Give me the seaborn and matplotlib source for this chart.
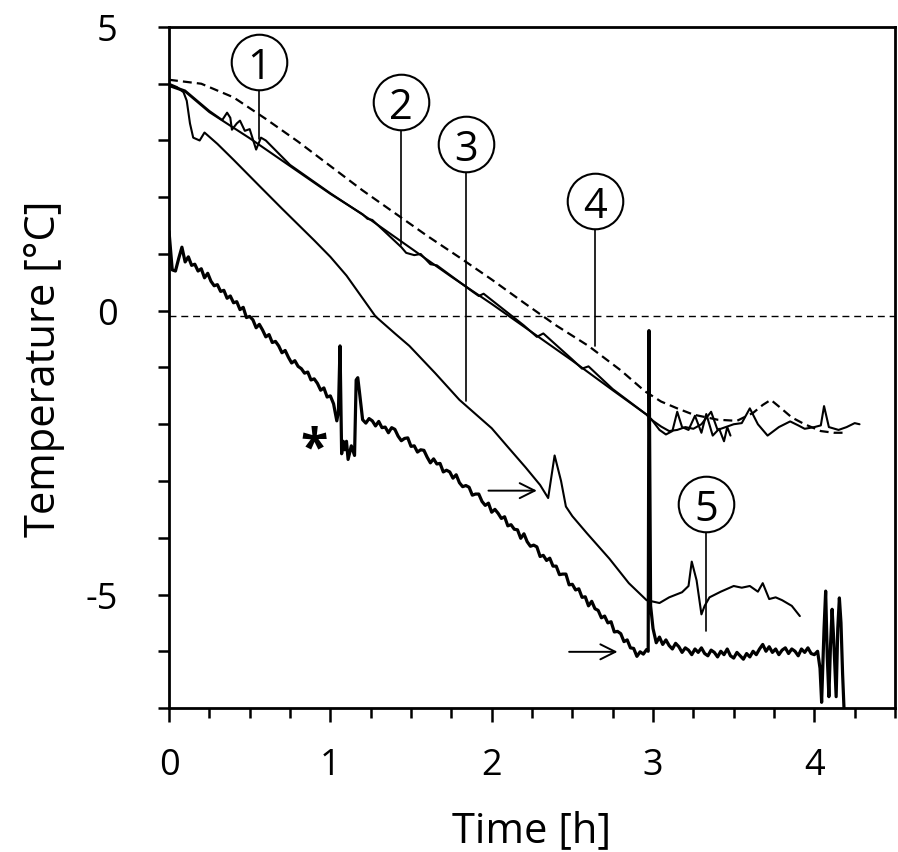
import matplotlib
matplotlib.use("Agg")
import matplotlib.pyplot as plt
import seaborn as sns
from matplotlib.ticker import FixedLocator, MultipleLocator

# ---- data (time in h, temperature in degC) ----
dashed_x = [0.00, 0.20, 0.40, 0.60, 0.80, 1.00, 1.20, 1.40, 1.60, 1.80, 2.00, 2.20,
            2.40, 2.60, 2.80, 2.95, 3.05, 3.15, 3.25, 3.40, 3.52, 3.62, 3.68, 3.73,
            3.79, 3.86, 3.94, 4.04, 4.12, 4.20]
dashed_y = [4.07, 4.00, 3.76, 3.38, 2.98, 2.55, 2.12, 1.72, 1.32, 0.94, 0.55, 0.14,
            -0.26, -0.62, -1.05, -1.42, -1.60, -1.72, -1.83, -1.92, -1.94, -1.80, -1.66, -1.57,
            -1.71, -1.88, -2.00, -2.12, -2.15, -2.15]

curve1_x = [0.00, 0.10, 0.25, 0.33, 0.36, 0.38, 0.39, 0.42, 0.44, 0.47, 0.50, 0.54,
            0.57, 0.60, 0.75, 1.00, 1.25, 1.50, 1.75, 2.00, 2.25, 2.50, 2.75, 2.96,
            3.00, 3.05, 3.10, 3.15, 3.20, 3.25, 3.30, 3.36, 3.40, 3.45, 3.50, 3.55,
            3.60, 3.65, 3.71, 3.78, 3.85, 3.90, 3.94, 4.00, 4.04, 4.06, 4.09, 4.15,
            4.20, 4.25, 4.28]
curve1_y = [3.98, 3.88, 3.52, 3.36, 3.49, 3.40, 3.19, 3.30, 3.35, 3.17, 3.20, 2.84,
            3.05, 3.00, 2.57, 2.07, 1.60, 1.10, 0.60, 0.12, -0.38, -0.88, -1.40, -1.83,
            -1.94, -2.04, -2.12, -2.10, -2.05, -2.08, -2.00, -1.78, -2.10, -2.05, -2.00, -1.98,
            -1.72, -2.00, -2.20, -2.05, -1.95, -2.02, -2.08, -2.05, -2.02, -1.68, -2.05, -2.10,
            -2.05, -1.98, -2.00]

curve2_x = [0.00, 0.10, 0.25, 0.50, 0.75, 1.00, 1.20, 1.23, 1.26, 1.44, 1.47, 1.52,
            1.56, 1.62, 1.66, 1.88, 1.92, 1.95, 2.20, 2.28, 2.32, 2.50, 2.56, 2.60,
            2.75, 2.96, 3.00, 3.04, 3.08, 3.12, 3.15, 3.18, 3.22, 3.26, 3.30, 3.33,
            3.37, 3.41, 3.44, 3.46, 3.48]
curve2_y = [3.96, 3.86, 3.50, 3.04, 2.55, 2.06, 1.70, 1.62, 1.60, 1.12, 1.02, 0.98,
            1.00, 0.82, 0.80, 0.34, 0.26, 0.30, -0.26, -0.46, -0.40, -0.86, -1.02, -0.98,
            -1.38, -1.83, -1.95, -2.10, -2.18, -2.12, -1.78, -2.05, -2.10, -1.85, -2.15, -1.82,
            -2.20, -2.08, -2.30, -2.05, -2.20]

curve3_x = [0.00, 0.05, 0.09, 0.11, 0.13, 0.15, 0.19, 0.22, 0.30, 0.40, 0.56, 0.70,
            0.80, 0.90, 1.00, 1.10, 1.20, 1.28, 1.40, 1.49, 1.65, 1.80, 1.90, 2.00,
            2.10, 2.21, 2.30, 2.35, 2.39, 2.43, 2.46, 2.50, 2.59, 2.73, 2.85, 2.96,
            3.04, 3.10, 3.18, 3.22, 3.24, 3.27, 3.30, 3.32, 3.35, 3.42, 3.50, 3.55,
            3.60, 3.65, 3.68, 3.72, 3.76, 3.80, 3.86, 3.91]
curve3_y = [4.00, 3.94, 3.85, 3.70, 3.30, 3.05, 3.00, 3.14, 2.94, 2.66, 2.20, 1.80,
            1.52, 1.24, 0.95, 0.62, 0.22, -0.10, -0.40, -0.62, -1.10, -1.57, -1.82, -2.07,
            -2.40, -2.76, -3.07, -3.30, -2.55, -3.00, -3.45, -3.62, -3.92, -4.37, -4.80, -5.10,
            -5.15, -5.05, -4.96, -4.85, -4.42, -4.75, -5.35, -5.20, -5.05, -4.95, -4.85, -4.88,
            -4.85, -4.95, -4.80, -5.08, -5.05, -5.10, -5.20, -5.38]

lower_x = [0.00, 0.01, 0.02, 0.04, 0.06, 0.08, 0.10, 0.12, 0.14, 0.16, 0.18, 0.20,
           0.22, 0.24, 0.26, 0.28, 0.30, 0.32, 0.34, 0.36, 0.38, 0.40, 0.42, 0.44,
           0.46, 0.48, 0.50, 0.52, 0.54, 0.56, 0.58, 0.60, 0.62, 0.64, 0.66, 0.68,
           0.70, 0.72, 0.74, 0.76, 0.78, 0.80, 0.82, 0.84, 0.86, 0.88, 0.90, 0.92,
           0.94, 0.96, 0.98, 1.00, 1.02, 1.04, 1.05, 1.06, 1.07, 1.08, 1.09, 1.10,
           1.11, 1.13, 1.15, 1.16, 1.17, 1.18, 1.20, 1.22, 1.24, 1.26, 1.28, 1.30,
           1.32, 1.34, 1.36, 1.38, 1.40, 1.42, 1.44, 1.46, 1.48, 1.50, 1.52, 1.54,
           1.56, 1.58, 1.60, 1.62, 1.64, 1.66, 1.68, 1.70, 1.72, 1.74, 1.76, 1.78,
           1.80, 1.82, 1.84, 1.86, 1.88, 1.90, 1.92, 1.94, 1.96, 1.98, 2.00, 2.02,
           2.04, 2.06, 2.08, 2.10, 2.12, 2.14, 2.16, 2.18, 2.20, 2.22, 2.24, 2.26,
           2.28, 2.30, 2.32, 2.34, 2.36, 2.38, 2.40, 2.42, 2.44, 2.46, 2.48, 2.50,
           2.52, 2.54, 2.56, 2.58, 2.60, 2.62, 2.64, 2.66, 2.68, 2.70, 2.72, 2.74,
           2.76, 2.78, 2.80, 2.82, 2.84, 2.86, 2.88, 2.90, 2.92, 2.94, 2.96, 2.97,
           2.975, 2.985, 3.00, 3.02, 3.04, 3.06, 3.08, 3.10, 3.12, 3.14, 3.16, 3.18,
           3.20, 3.22, 3.24, 3.26, 3.28, 3.30, 3.32, 3.34, 3.36, 3.38, 3.40, 3.42,
           3.44, 3.46, 3.48, 3.50, 3.52, 3.54, 3.56, 3.58, 3.60, 3.62, 3.64, 3.66,
           3.68, 3.70, 3.72, 3.74, 3.76, 3.78, 3.80, 3.82, 3.84, 3.86, 3.88, 3.90,
           3.92, 3.94, 3.96, 3.98, 4.00, 4.02, 4.035, 4.045, 4.06, 4.07, 4.08, 4.09,
           4.10, 4.11, 4.12, 4.135, 4.145, 4.155, 4.165, 4.175, 4.185]
lower_y = [1.40, 1.05, 0.72, 0.70, 0.92, 1.12, 0.86, 0.95, 0.80, 0.82, 0.70, 0.74,
           0.58, 0.66, 0.52, 0.44, 0.46, 0.34, 0.36, 0.22, 0.26, 0.14, 0.16, 0.02,
           0.06, -0.12, -0.10, -0.16, -0.30, -0.24, -0.34, -0.46, -0.42, -0.56, -0.54, -0.62,
           -0.74, -0.70, -0.82, -0.92, -0.88, -0.98, -1.02, -1.10, -1.08, -1.22, -1.20, -1.28,
           -1.40, -1.36, -1.52, -1.50, -1.64, -1.94, -1.78, -0.62, -2.52, -2.30, -2.45, -2.30,
           -2.62, -2.38, -2.55, -1.22, -1.18, -1.42, -1.92, -1.98, -1.90, -1.94, -2.03, -1.95,
           -2.06, -2.05, -2.15, -2.06, -2.09, -2.21, -2.29, -2.25, -2.24, -2.39, -2.38, -2.49,
           -2.45, -2.46, -2.58, -2.68, -2.61, -2.70, -2.69, -2.84, -2.81, -2.84, -2.95, -2.89,
           -3.03, -3.10, -3.08, -3.11, -3.25, -3.23, -3.23, -3.36, -3.43, -3.39, -3.55, -3.50,
           -3.57, -3.66, -3.63, -3.79, -3.77, -3.85, -3.86, -4.01, -3.93, -4.07, -4.15, -4.13,
           -4.16, -4.33, -4.31, -4.40, -4.36, -4.50, -4.50, -4.65, -4.64, -4.64, -4.83, -4.82,
           -4.92, -4.90, -5.05, -5.04, -5.20, -5.12, -5.25, -5.28, -5.41, -5.38, -5.50, -5.48,
           -5.66, -5.65, -5.69, -5.83, -5.80, -5.94, -5.95, -6.09, -6.01, -6.05, -5.97, -6.00,
           -0.35, -5.20, -5.60, -5.85, -5.75, -5.88, -5.80, -5.90, -5.96, -5.86, -5.92, -6.02,
           -5.94, -5.98, -6.06, -5.96, -6.02, -5.94, -6.04, -6.08, -5.98, -6.02, -6.10, -6.00,
           -6.06, -5.96, -6.08, -6.12, -6.02, -6.08, -6.14, -6.04, -6.10, -6.00, -6.06, -5.96,
           -5.88, -6.00, -5.92, -6.02, -5.96, -6.06, -5.98, -5.94, -6.04, -5.96, -6.00, -6.08,
           -5.96, -6.02, -5.94, -6.04, -6.06, -6.00, -6.30, -6.90, -5.60, -4.94, -6.10, -6.80,
           -5.90, -5.26, -5.80, -6.80, -5.60, -5.06, -5.50, -6.40, -7.10]

freezing_line = -0.1

# circled curve numbers: circle centre and end of the leader line
label_names = ["1", "2", "3", "4", "5"]
label_x = [0.56, 1.44, 1.84, 2.64, 3.33]
label_y = [4.38, 3.67, 2.93, 1.94, -3.40]
label_tip_y = [3.02, 1.16, -1.59, -0.62, -5.64]

# arrows (tail x, head x, y)
arrow_tail_x = [1.98, 2.48]
arrow_head_x = [2.28, 2.78]
arrow_y = [-3.17, -6.01]

sns.set_theme(style="ticks")
plt.rcParams["font.family"] = ["Open Sans", "DejaVu Sans"]
plt.rcParams.update({"text.color": "black", "axes.labelcolor": "black",
                     "xtick.color": "black", "ytick.color": "black"})

fig = plt.figure(figsize=(8.98, 8.53), dpi=100)
ax = fig.add_axes([0.1882, 0.1688, 0.8085, 0.7984])

ax.axhline(freezing_line, color="black", lw=1.0, ls=(0, (5, 3.5)), zorder=1)

line_kw = dict(ax=ax, sort=False, estimator=None, color="black")
sns.lineplot(x=dashed_x, y=dashed_y, lw=1.6, linestyle=(0, (4, 2.3)), **line_kw)
sns.lineplot(x=curve1_x, y=curve1_y, lw=1.5, **line_kw)
sns.lineplot(x=curve2_x, y=curve2_y, lw=1.5, **line_kw)
sns.lineplot(x=curve3_x, y=curve3_y, lw=1.5, **line_kw)
sns.lineplot(x=lower_x, y=lower_y, lw=2.3, **line_kw)

# leader lines + circled numbers
for name, lx, ly, ty in zip(label_names, label_x, label_y, label_tip_y):
    ax.plot([lx, lx], [ly, ty], color="black", lw=1.2, zorder=3)
    ax.text(lx, ly, name, ha="center", va="center_baseline", fontsize=30,
            color="black", zorder=6)
ax.scatter(label_x, label_y, s=40 ** 2, facecolor="white", edgecolor="black",
           linewidth=1.5, zorder=5)

for tx, hx, ay in zip(arrow_tail_x, arrow_head_x, arrow_y):
    ax.annotate("", xy=(hx, ay), xytext=(tx, ay),
                arrowprops=dict(arrowstyle="->,head_length=0.9,head_width=0.45",
                                color="black", lw=1.4, shrinkA=0, shrinkB=0))

ax.text(0.9, -2.45, "*", ha="center", va="center", fontsize=36, fontweight="bold",
        color="black")

ax.set_xlim(0, 4.5)
ax.set_ylim(-7, 5)
ax.xaxis.set_major_locator(FixedLocator([0, 1, 2, 3, 4]))
ax.set_xticklabels(["0", "1", "2", "3", "4"])
ax.xaxis.set_minor_locator(MultipleLocator(0.25))
ax.yaxis.set_major_locator(FixedLocator([-5, 0, 5]))
ax.set_yticklabels(["-5", "0", "5"])
ax.yaxis.set_minor_locator(MultipleLocator(1))

ax.tick_params(axis="both", which="both", direction="out", width=1.8,
               color="black", labelcolor="black")
ax.tick_params(axis="x", which="major", length=10, pad=18, labelsize=26)
ax.tick_params(axis="x", which="minor", length=7)
ax.tick_params(axis="y", which="both", length=8, pad=29, labelsize=26)

for sp in ax.spines.values():
    sp.set_visible(True)
    sp.set_linewidth(2.0)
    sp.set_color("black")

ax.set_xlabel("Time [h]", fontsize=30, color="black")
ax.set_ylabel("Temperature [°C]", fontsize=30, color="black")
ax.xaxis.set_label_coords(0.5, -0.148)
ax.yaxis.set_label_coords(-0.143, 0.5)
ax.xaxis.label.set_va("top")
ax.yaxis.label.set_va("bottom")

fig.savefig("out.png", dpi=100, facecolor="white")
